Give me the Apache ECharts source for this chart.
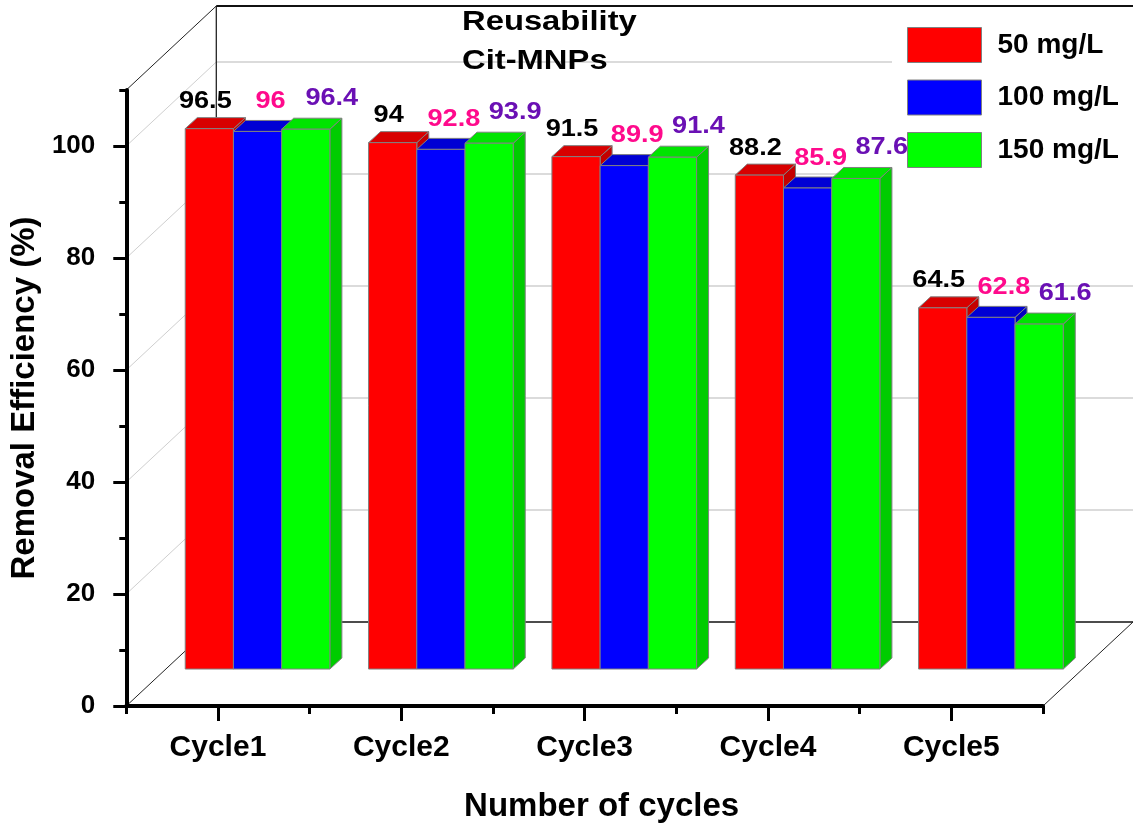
<!DOCTYPE html>
<html>
<head>
<meta charset="utf-8">
<title>Reusability Cit-MNPs</title>
<script src="https://cdn.jsdelivr.net/npm/echarts@6/dist/echarts.min.js"></script>
<style>
  html, body { margin: 0; padding: 0; background: #ffffff; }
  #chart { width: 1133px; height: 828px; }
</style>
</head>
<body>
<div id="chart"></div>
<script>
// ---- data ----
const cycles = ['Cycle1', 'Cycle2', 'Cycle3', 'Cycle4', 'Cycle5'];
const concentrations = ['50 mg/L', '100 mg/L', '150 mg/L'];
const eff50 = [96.5, 94, 91.5, 88.2, 64.5];
const eff100 = [96, 92.8, 89.9, 85.9, 62.8];
const eff150 = [96.4, 93.9, 91.4, 87.6, 61.6];
const yMajorTicks = [0, 20, 40, 60, 80, 100];
const yMinorTicks = [10, 30, 50, 70, 90, 110];
const yMax = 110;

// ---- styling ----
const FONT = '"Liberation Sans", Arial, Helvetica, sans-serif';
const faceColors = ['#ff0000', '#0000ff', '#00ff00'];
const topColors = ['#d80000', '#0000d4', '#00e400'];
const sideColors = ['#c40000', '#0000c0', '#00cc00'];
const labelColors = ['#000000', '#ff0a8c', '#6a10b4'];
const labelShift = [[-4, -27], [13, -30], [26, -31]];
const WALL = [90, -84];        // depth of the back wall (screen offset)
const BAR_POS = 0.44;          // bars sit part-way into the box
const BAR_DEPTH = [12, -11];   // thickness of each bar box
const BAR_FRAC = 0.263;        // bar width as fraction of category band
const EDGE = '#808080';

const chart = echarts.init(document.getElementById('chart'), null, { renderer: 'canvas' });

// Walls, floor and their grid lines, laid out on the axis scales
function renderFrame(params, api) {
  const cs = params.coordSys;
  const x0 = cs.x, x1 = cs.x + cs.width;
  const dx = WALL[0], dy = WALL[1];
  const y0 = api.coord([0, 0])[1];
  const yTop = api.coord([0, yMax])[1];
  const children = [];
  const line = (a, b, color, w) => ({
    type: 'line',
    shape: { x1: a[0], y1: a[1], x2: b[0], y2: b[1] },
    style: { stroke: color, lineWidth: w }
  });
  yMajorTicks.forEach(v => {
    if (v === 0) return;
    const y = api.coord([0, v])[1];
    children.push(line([x0, y], [x0 + dx, y + dy], '#cfcfcf', 1));
    children.push(line([x0 + dx, y + dy], [x1 + dx, y + dy], '#cfcfcf', 1.5));
  });
  children.push(line([x0, yTop], [x0 + dx, yTop + dy], '#222', 1));
  children.push(line([x0 + dx, yTop + dy], [x1 + dx, yTop + dy], '#111', 2));
  children.push(line([x0 + dx, yTop + dy], [x0 + dx, y0 + dy], '#111', 1.2));
  children.push(line([x0 + dx, y0 + dy], [x1 + dx, y0 + dy], '#111', 1.5));
  children.push(line([x0, y0], [x0 + dx, y0 + dy], '#222', 1));
  children.push(line([x1, y0], [x1 + dx, y0 + dy], '#222', 1));
  return { type: 'group', children };
}

// One 3-D looking bar per data item
function makeBarRenderer(s) {
  return function (params, api) {
    const cat = api.value(0);
    const val = api.value(1);
    const band = api.size([1, 0])[0];
    const base = api.coord([cat, 0]);
    const top = api.coord([cat, val]);
    const ox = WALL[0] * BAR_POS, oy = WALL[1] * BAR_POS;
    const bw = band * BAR_FRAC;
    const cx = base[0] + ox + (s - 1) * bw;
    const xl = cx - bw / 2, xr = cx + bw / 2;
    const yb = base[1] + oy, yt = top[1] + oy;
    const ddx = BAR_DEPTH[0], ddy = BAR_DEPTH[1];
    return {
      type: 'group',
      children: [
        {
          type: 'polygon',
          shape: { points: [[xr, yt], [xr + ddx, yt + ddy], [xr + ddx, yb + ddy], [xr, yb]] },
          style: { fill: sideColors[s], stroke: EDGE, lineWidth: 1 }
        },
        {
          type: 'polygon',
          shape: { points: [[xl, yt], [xr, yt], [xr + ddx, yt + ddy], [xl + ddx, yt + ddy]] },
          style: { fill: topColors[s], stroke: EDGE, lineWidth: 1 }
        },
        {
          type: 'rect',
          shape: { x: xl, y: yt, width: bw, height: yb - yt },
          style: { fill: faceColors[s], stroke: EDGE, lineWidth: 1 }
        },
        {
          type: 'text',
          x: cx + labelShift[s][0],
          y: yt + labelShift[s][1],
          scaleX: 1.13,
          z2: 10,
          style: {
            text: String(val),
            fill: labelColors[s],
            font: 'bold 24px ' + FONT,
            align: 'center',
            verticalAlign: 'middle'
          }
        }
      ]
    };
  };
}

const seriesData = [eff50, eff100, eff150];

const option = {
  backgroundColor: '#ffffff',
  animation: false,
  grid: { left: 125, right: 90, top: 90, bottom: 122 },
  legend: {
    orient: 'vertical',
    left: 892,
    top: 10,
    z: 1,
    padding: [17, 40, 7, 15],
    backgroundColor: '#ffffff',
    itemWidth: 74,
    itemHeight: 35,
    itemGap: 16.5,
    icon: 'rect',
    itemStyle: { borderColor: EDGE, borderWidth: 1 },
    textStyle: { fontFamily: FONT, fontWeight: 'bold', fontSize: 28, color: '#000', padding: [0, 0, 0, 11] },
    data: concentrations
  },
  graphic: [
    {
      type: 'text', x: 462, y: 22, scaleX: 1.17, z: 10,
      style: { text: 'Reusability', font: 'bold 28px ' + FONT, fill: '#000', verticalAlign: 'middle', align: 'left' }
    },
    {
      type: 'text', x: 462, y: 61, scaleX: 1.17, z: 10,
      style: { text: 'Cit-MNPs', font: 'bold 28px ' + FONT, fill: '#000', verticalAlign: 'middle', align: 'left' }
    }
  ],
  xAxis: [
    {
      type: 'category',
      data: cycles,
      boundaryGap: true,
      position: 'bottom',
      name: 'Number of cycles',
      nameLocation: 'middle',
      nameGap: 84,
      nameTextStyle: { fontFamily: FONT, fontWeight: 'bold', fontSize: 33, color: '#000', padding: [0, 0, 0, 34] },
      axisLine: { show: true, lineStyle: { color: '#000', width: 4 } },
      axisTick: { show: true, alignWithLabel: true, length: 15, lineStyle: { color: '#000', width: 3 } },
      axisLabel: { fontFamily: FONT, fontWeight: 'bold', fontSize: 30, color: '#000', margin: 27 },
      splitLine: { show: false }
    },
    {
      type: 'category',
      data: cycles,
      boundaryGap: true,
      position: 'bottom',
      axisLine: { show: false },
      axisTick: { show: true, alignWithLabel: false, interval: 0, length: 8, lineStyle: { color: '#000', width: 3 } },
      axisLabel: { show: false },
      splitLine: { show: false }
    }
  ],
  yAxis: [
    {
      type: 'value',
      min: 0,
      max: yMax,
      interval: 20,
      position: 'left',
      name: 'Removal Efficiency (%)',
      nameLocation: 'middle',
      nameGap: 82,
      nameTextStyle: { fontFamily: FONT, fontWeight: 'bold', fontSize: 33, color: '#000' },
      axisLine: { show: true, lineStyle: { color: '#000', width: 4 } },
      axisTick: { show: true, customValues: yMajorTicks, length: 13, lineStyle: { color: '#000', width: 3 } },
      axisLabel: { customValues: yMajorTicks, fontFamily: FONT, fontWeight: 'bold', fontSize: 26, color: '#000', margin: 31 },
      splitLine: { show: false }
    },
    {
      type: 'value',
      min: 0,
      max: yMax,
      interval: 20,
      position: 'left',
      axisLine: { show: false },
      axisTick: { show: true, customValues: yMinorTicks, length: 7, lineStyle: { color: '#000', width: 3 } },
      axisLabel: { show: false },
      splitLine: { show: false }
    }
  ],
  series: [
    {
      type: 'custom',
      name: 'frame',
      silent: true,
      xAxisIndex: 0,
      yAxisIndex: 0,
      renderItem: renderFrame,
      data: [[0, 0]],
      z: 0
    }
  ].concat(concentrations.map((name, s) => ({
    type: 'custom',
    name: name,
    xAxisIndex: 0,
    yAxisIndex: 0,
    itemStyle: { color: faceColors[s] },
    renderItem: makeBarRenderer(s),
    encode: { x: 0, y: 1 },
    data: seriesData[s].map((v, i) => [i, v]),
    z: 2
  })))
};

chart.setOption(option);
</script>
</body>
</html>
